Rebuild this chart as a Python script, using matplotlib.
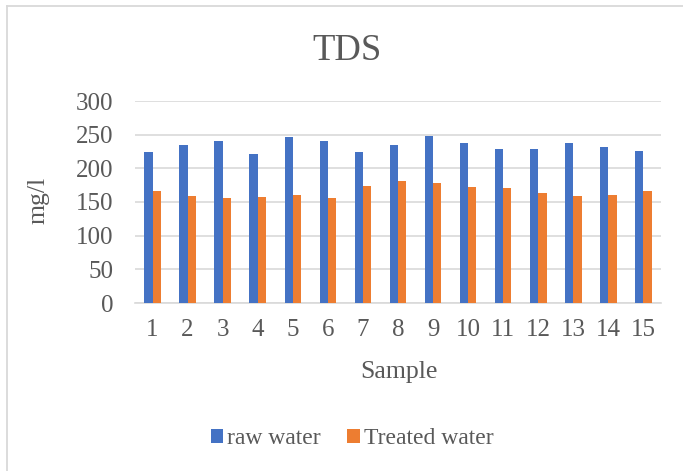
import matplotlib
matplotlib.use("Agg")
import matplotlib.pyplot as plt
from matplotlib.lines import Line2D
import numpy as np

samples = [str(i) for i in range(1, 16)]
raw_water = [224, 235, 241, 222, 246, 241, 224, 235, 248, 238, 228, 229, 238, 231, 226]
treated_water = [167, 159, 156, 158, 160, 156, 174, 181, 178, 173, 171, 163, 159, 160, 167]
yticks = [0, 50, 100, 150, 200, 250, 300]

plt.rcParams['font.family'] = ['Liberation Serif', 'DejaVu Serif']
W, H = 683, 471
fig = plt.figure(figsize=(W / 100, H / 100), dpi=100)
fig.patch.set_facecolor('white')
TXT = '#595959'

# chart-area border
fig.add_artist(Line2D([6.5 / W, 6.5 / W], [0, 1 - 5.5 / H], transform=fig.transFigure, color='#d9d9d9', lw=1.3))
fig.add_artist(Line2D([6.5 / W, 1], [1 - 5.5 / H, 1 - 5.5 / H], transform=fig.transFigure, color='#d9d9d9', lw=1.3))

left, right = 135 / W, 661 / W
bottom, top = 1 - 303 / H, 1 - 101 / H
ax = fig.add_axes([left, bottom, right - left, top - bottom])

x = np.arange(len(samples))
bw = 0.235
ax.bar(x - bw / 2, raw_water, bw, color='#4472c4', label='raw water', zorder=3)
ax.bar(x + bw / 2, treated_water, bw, color='#ed7d31', label='Treated water', zorder=3)

ax.set_xlim(-0.5, len(samples) - 0.5)
ax.set_ylim(0, 300)
ax.set_yticks(yticks)
ax.set_yticklabels([str(v) for v in yticks])
ax.set_xticks(x)
ax.set_xticklabels(samples)
ax.yaxis.grid(True, color='#d9d9d9', lw=1.2, zorder=0)
ax.set_axisbelow(True)
for s in ['top', 'right', 'left']:
    ax.spines[s].set_visible(False)
ax.spines['bottom'].set_color('#d9d9d9')
ax.spines['bottom'].set_linewidth(1.2)
ax.tick_params(axis='both', length=0, labelsize=18, colors=TXT)
ax.tick_params(axis='x', pad=11.5)
ax.tick_params(axis='y', pad=15.5)

fig.text(346.7 / W, 1 - 60 / H, 'TDS', fontsize=26.5, color=TXT, ha='center', va='baseline')
fig.text(399 / W, 1 - 377.7 / H, 'Sample', fontsize=18.5, color=TXT, ha='center', va='baseline')
fig.text(44 / W, 1 - 200 / H, 'mg/l', fontsize=18.5, color=TXT, ha='center', va='baseline',
         rotation=90, rotation_mode='anchor')

leg = fig.legend(loc='center', bbox_to_anchor=(352 / W, 1 - 438.5 / H), ncol=2, frameon=False,
                 fontsize=17, handlelength=0.53, handleheight=0.53, handletextpad=0.17,
                 columnspacing=1.13, labelcolor=TXT)

fig.savefig('out.png', dpi=100, facecolor='white')
